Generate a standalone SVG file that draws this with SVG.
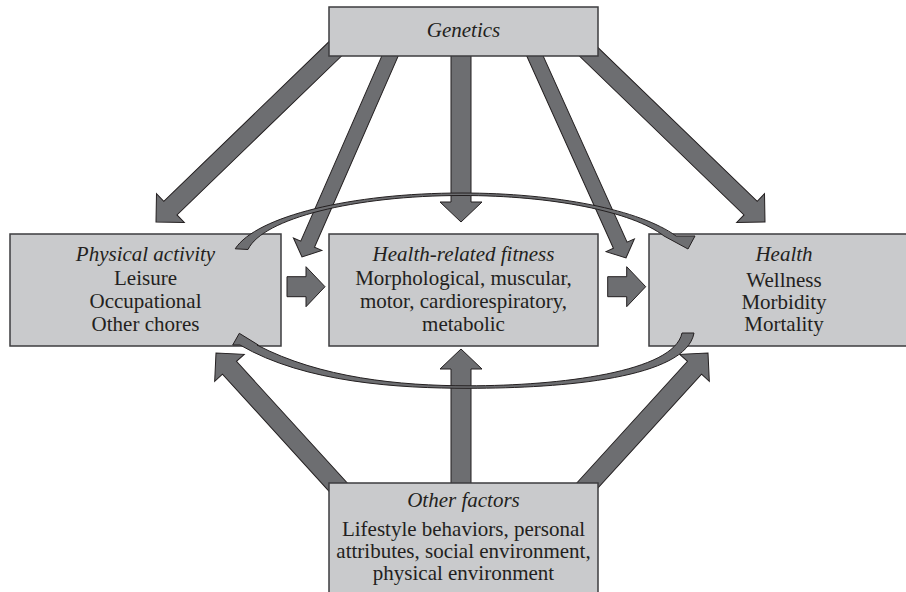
<svg xmlns="http://www.w3.org/2000/svg" width="906" height="592" viewBox="0 0 906 592">
<defs>
<style>
.box{fill:#c9cacc;stroke:#3d3d3f;stroke-width:1.5}
.arr{fill:#6d6e71;stroke:#231f20;stroke-width:1;stroke-linejoin:miter}
text{font-family:"Liberation Serif","Times New Roman",serif;font-size:21px;fill:#231f20;text-anchor:middle}
.it{font-style:italic}
</style>
</defs>
<rect width="906" height="592" fill="#ffffff"/>
<g id="connectors">
<polygon class="arr" transform="translate(156 222) rotate(136)" points="-265,-9.5 -20,-9.5 -20,-20 0,0 -20,20 -20,9.5 -265,9.5"/>
<polygon class="arr" transform="translate(302 257) rotate(113.65)" points="-231,-7.5 -14,-7.5 -14,-15.5 0,0 -14,15.5 -14,7.5 -231,7.5"/>
<polygon class="arr" transform="translate(461 222) rotate(90)" points="-180,-10 -20,-10 -20,-21 0,0 -20,21 -20,10 -180,10"/>
<polygon class="arr" transform="translate(626 258) rotate(65.74)" points="-234,-7.5 -14,-7.5 -14,-15.5 0,0 -14,15.5 -14,7.5 -234,7.5"/>
<polygon class="arr" transform="translate(765 222) rotate(44)" points="-265,-9.5 -20,-9.5 -20,-20 0,0 -20,20 -20,9.5 -265,9.5"/>
<polygon class="arr" transform="translate(216 353) rotate(-132.32)" points="-196,-9.5 -20,-9.5 -20,-20 0,0 -20,20 -20,9.5 -196,9.5"/>
<polygon class="arr" transform="translate(461 349) rotate(-90)" points="-150,-10 -20,-10 -20,-21 0,0 -20,21 -20,10 -150,10"/>
<polygon class="arr" transform="translate(708 353) rotate(-47.68)" points="-196,-9.5 -20,-9.5 -20,-20 0,0 -20,20 -20,9.5 -196,9.5"/>
<polygon class="arr" transform="translate(325 286.7)" points="-38,-10 -19,-10 -19,-20 0,0 -19,20 -19,10 -38,10"/>
<polygon class="arr" transform="translate(645.7 286.7)" points="-38,-10 -19,-10 -19,-20 0,0 -19,20 -19,10 -38,10"/>
</g>
<g id="genetics">
<rect class="box" x="329" y="7" width="269" height="49"/>
<text class="it" x="463.5" y="37">Genetics</text>
</g>
<g id="physical-activity">
<rect class="box" x="10" y="234" width="271" height="112"/>
<text class="it" x="145.5" y="261">Physical activity</text>
<text x="145.5" y="284.5">Leisure</text>
<text x="145.5" y="307.5">Occupational</text>
<text x="145.5" y="330.5">Other chores</text>
</g>
<g id="health-related-fitness">
<rect class="box" x="329" y="234" width="269" height="112"/>
<text class="it" x="463.5" y="261">Health-related fitness</text>
<text x="463.5" y="284.5">Morphological, muscular,</text>
<text x="463.5" y="307.5">motor, cardiorespiratory,</text>
<text x="463.5" y="330.5">metabolic</text>
</g>
<g id="health">
<rect class="box" x="649" y="234" width="280" height="112"/>
<text class="it" x="784" y="261">Health</text>
<text x="784" y="287">Wellness</text>
<text x="784" y="309">Morbidity</text>
<text x="784" y="331">Mortality</text>
</g>
<g id="other-factors">
<rect class="box" x="329" y="483" width="269" height="115"/>
<text class="it" x="463.5" y="507">Other factors</text>
<text x="463.5" y="536">Lifestyle behaviors, personal</text>
<text x="463.5" y="558">attributes, social environment,</text>
<text x="463.5" y="580">physical environment</text>
</g>
<g id="feedback-connectors">
<path class="arr" d="M235.2,248.8 C256.3,216.3 351.4,193 462,193 C556,193 640.6,210 676,236 L695,236 L688,249 L664,236 C632.5,211.6 552,195.5 462,195.5 C354,195.5 262.7,218.6 248,249.5 Z"/>
<path class="arr" d="M232.7,345 L239.3,333.3 L258.3,345 L257,345 C320,378 400,385.8 468,385.8 C560,385.8 674,372 682,333 L694,333 C686,378 565,388.3 468,388.3 C400,388.3 305,383 240,345 Z"/>
</g>
</svg>
